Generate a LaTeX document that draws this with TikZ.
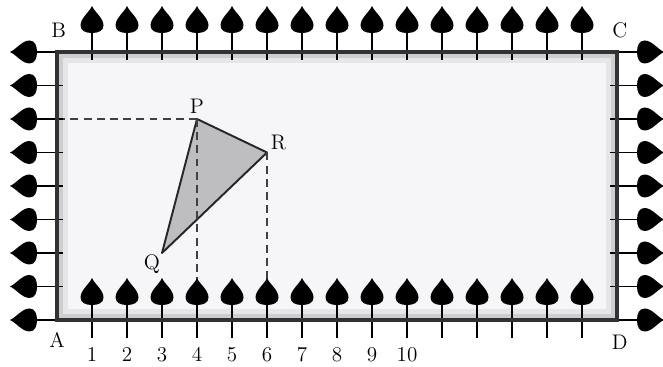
\documentclass[tikz,border=0pt]{standalone}
\usetikzlibrary{calc,positioning}
\definecolor{frameline}{RGB}{50,50,50}
\definecolor{fieldfill}{RGB}{246,246,248}
\definecolor{fieldshade}{RGB}{205,205,210}
\definecolor{kitegray}{RGB}{190,190,192}

\begin{document}
\begin{tikzpicture}[
  x=0.7cm,y=0.67cm,
  font=\fontsize{12}{14}\selectfont,
  frame/.style={draw=frameline,line width=1.8pt},
  stem/.style={draw=black,line width=1.1pt},
  guide/.style={draw=black!75,line width=1.1pt,dash pattern=on 4.5pt off 3pt},
  kite/.style={draw=black!85,fill=kitegray,line width=1.1pt,line join=round},
  lbl/.style={inner sep=1pt},
  pics/flag/.style n args={2}{code={
    \draw[stem] (0,-#1) -- (0,#2);
    \begin{scope}[shift={(0,#2)}]
      \fill[black] (0,0.54cm) .. controls (0.05cm,0.42cm) and (0.23cm,0.30cm) .. (0.23cm,0.15cm)
        .. controls (0.23cm,0.04cm) and (0.12cm,0cm) .. (0,0)
        .. controls (-0.12cm,0cm) and (-0.23cm,0.04cm) .. (-0.23cm,0.15cm)
        .. controls (-0.23cm,0.30cm) and (-0.05cm,0.42cm) .. cycle;
    \end{scope}
  }}
]
\useasboundingbox (-1.629,-1.403) rectangle (17.314,9.552);
% ---------------- field ----------------
\coordinate (A) at (0,0);
\coordinate (B) at (0,8);
\coordinate (C) at (16,8);
\coordinate (D) at (16,0);
\fill[fieldfill] (A) rectangle (C);
\draw[fieldshade,line width=4pt] ($(A)+(2pt,2pt)$) rectangle ($(C)+(-2pt,-2pt)$);
\draw[fieldshade!50,line width=3pt] ($(A)+(5pt,5pt)$) rectangle ($(C)+(-5pt,-5pt)$);
% ---------------- triangle PQR ----------------
\coordinate (P) at (4,6);
\coordinate (Q) at (3,2);
\coordinate (R) at (6,5);
\filldraw[kite] (P) -- (R) -- (Q) -- cycle;
\draw[guide] (P) -- (P -| A);
\draw[guide] (P) -- (P |- A);
\draw[guide] (R) -- (R |- A);
\node[lbl,above=2pt of P] (Plbl) {P};
\node[lbl,above right=0pt and 1pt of R] (Rlbl) {R};
\node[lbl,below left=0pt and 0pt of Q] (Qlbl) {Q};
% ---------------- flags ----------------
\foreach \i in {1,...,15}{
  \pic at (\i,8) {flag={0.16cm}{0.38cm}};
  \pic at (\i,0) {flag={0.36cm}{0.30cm}};
}
\foreach \j in {0,...,8}{
  \pic[rotate=90] at (0,\j) {flag={0.12cm}{0.40cm}};
  \pic[rotate=-90] at (16,\j) {flag={0.14cm}{0.40cm}};
}
\draw[frame] (A) rectangle (C);
% ---------------- corner and scale labels ----------------
\node[lbl] (Alabel) at ($(A)+(0,-0.6)$) {A};
\node[lbl] (Blabel) at ($(B)+(0.05,0.66)$) {B};
\node[lbl] (Clabel) at ($(C)+(0.08,0.66)$) {C};
\node[lbl] (Dlabel) at ($(D)+(0.08,-0.66)$) {D};
\foreach \i in {1,...,10}
  \node[lbl] (n\i) at (\i,-1.04) {\i};
\end{tikzpicture}
\end{document}
